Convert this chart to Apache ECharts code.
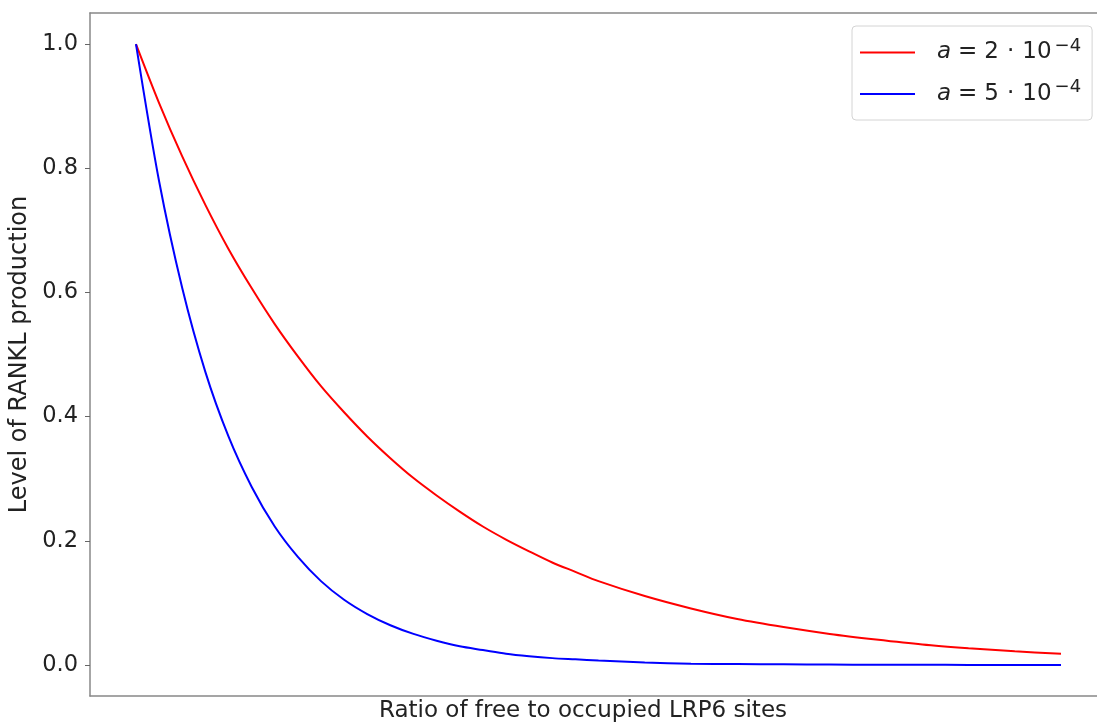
<!DOCTYPE html>
<html>
<head>
<meta charset="utf-8">
<script src="https://cdn.jsdelivr.net/npm/echarts@6/dist/echarts.min.js"></script>
<style>
  html, body { margin: 0; padding: 0; background: #fff; }
  #chart { width: 1097px; height: 722px; }
</style>
</head>
<body>
<div id="chart"></div>
<script>
// x positions (no tick labels shown on the x axis)
const xs = [0, 0.025, 0.05, 0.075, 0.1, 0.125, 0.15, 0.175, 0.2, 0.225, 0.25,
  0.275, 0.3, 0.325, 0.35, 0.375, 0.4, 0.425, 0.45, 0.475, 0.5,
  0.55, 0.6, 0.65, 0.7, 0.75, 0.8, 0.85, 0.9, 0.95, 1.0];

// a = 2e-4 (red)
const redVals = [1.000, 0.905, 0.819, 0.741, 0.670, 0.607, 0.549, 0.497, 0.449, 0.407, 0.368,
  0.333, 0.301, 0.273, 0.247, 0.223, 0.202, 0.183, 0.165, 0.150, 0.135,
  0.111, 0.091, 0.074, 0.061, 0.050, 0.041, 0.033, 0.027, 0.022, 0.018];

// a = 5e-4 (blue)
const blueVals = [1.000, 0.779, 0.607, 0.472, 0.368, 0.287, 0.223, 0.174, 0.135, 0.105, 0.082,
  0.064, 0.050, 0.039, 0.030, 0.024, 0.018, 0.014, 0.011, 0.009, 0.007,
  0.004, 0.002, 0.0015, 0.001, 0.0006, 0.0003, 0.0002, 0.0001, 0.0001, 0.0];

const yTicks = [0, 0.2, 0.4, 0.6, 0.8, 1.0];
const seriesNames = ['a2', 'a5'];
const legendText = {
  a2: '{i|a}{e|=}{n|2}{d|·}{n|10}{s|−4}',
  a5: '{i|a}{e|=}{n|5}{d|·}{n|10}{s|−4}'
};

function pairs(vals) {
  return vals.map((v, i) => [xs[i], v]);
}

var myChart = echarts.init(document.getElementById('chart'));
var font = 'DejaVu Sans';
var txt = '#222';
var spine = '#888';
var xMin = -0.0497, xMax = 1.0389;

var option = {
  backgroundColor: '#fff',
  animation: false,
  grid: {
    left: 90,
    right: 0,
    top: 13,
    bottom: 26,
    outerBoundsMode: 'none'
  },
  legend: {
    orient: 'vertical',
    left: 852,
    top: 26,
    padding: [11, 11, 12, 8],
    itemWidth: 55,
    itemHeight: 2,
    itemGap: 12,
    icon: 'rect',
    borderColor: '#d4d4d4',
    borderWidth: 1,
    borderRadius: 4,
    backgroundColor: '#fff',
    formatter: function (name) {
      return legendText[name];
    },
    textStyle: {
      fontFamily: font,
      fontSize: 23,
      color: txt,
      lineHeight: 28,
      rich: {
        i: { fontFamily: font, fontStyle: 'italic', fontSize: 23, color: txt, padding: [0, 0, 0, 17] },
        e: { fontFamily: font, fontSize: 23, color: txt, padding: [0, 7, 0, 7] },
        n: { fontFamily: font, fontSize: 23, color: txt },
        d: { fontFamily: font, fontSize: 23, color: txt, padding: [0, 8, 0, 8] },
        s: { fontFamily: font, fontSize: 18, color: txt, padding: [0, 0, 13, 3] }
      }
    },
    data: seriesNames
  },
  xAxis: [
    {
      type: 'value',
      min: xMin,
      max: xMax,
      position: 'bottom',
      name: 'Ratio of free to occupied LRP6 sites',
      nameLocation: 'middle',
      nameGap: 4,
      nameTextStyle: {
        fontFamily: font,
        fontSize: 23,
        color: txt,
        verticalAlign: 'top',
        padding: [0, 21, 0, 0]
      },
      axisLine: { show: true, onZero: false, lineStyle: { color: spine, width: 1.5 } },
      axisTick: { show: false },
      axisLabel: { show: false },
      splitLine: { show: false }
    },
    {
      type: 'value',
      min: xMin,
      max: xMax,
      position: 'top',
      axisLine: { show: true, onZero: false, lineStyle: { color: spine, width: 1.5 } },
      axisTick: { show: false },
      axisLabel: { show: false },
      splitLine: { show: false }
    }
  ],
  yAxis: {
    type: 'value',
    min: -0.05,
    max: 1.05,
    name: 'Level of RANKL production',
    nameLocation: 'middle',
    nameGap: 47,
    nameTextStyle: {
      fontFamily: font,
      fontSize: 24,
      color: txt
    },
    axisLine: { show: true, onZero: false, lineStyle: { color: spine, width: 1.5 } },
    axisTick: {
      show: true,
      length: 5,
      customValues: yTicks,
      lineStyle: { color: '#666', width: 1 }
    },
    axisLabel: {
      show: true,
      customValues: yTicks,
      margin: 12,
      fontFamily: font,
      fontSize: 22.5,
      color: txt,
      formatter: function (v) {
        return v.toFixed(1);
      }
    },
    splitLine: { show: false }
  },
  series: [
    {
      name: 'a2',
      type: 'line',
      xAxisIndex: 0,
      data: pairs(redVals),
      symbol: 'none',
      smooth: 0.3,
      lineStyle: { color: '#ff0000', width: 2 },
      itemStyle: { color: '#ff0000' }
    },
    {
      name: 'a5',
      type: 'line',
      xAxisIndex: 0,
      data: pairs(blueVals),
      symbol: 'none',
      smooth: 0.3,
      lineStyle: { color: '#0000ff', width: 2 },
      itemStyle: { color: '#0000ff' }
    }
  ]
};
myChart.setOption(option);
</script>
</body>
</html>
